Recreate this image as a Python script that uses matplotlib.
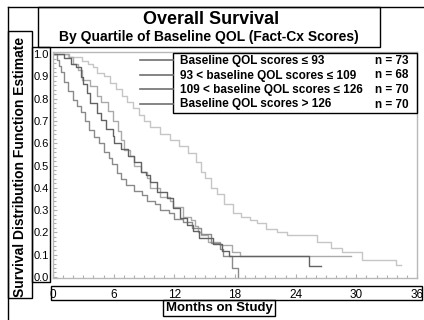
import numpy as np
import matplotlib
matplotlib.use("Agg")
import matplotlib.pyplot as plt
from matplotlib.patches import Rectangle
from matplotlib.lines import Line2D

plt.rcParams['font.family'] = ['Liberation Sans', 'DejaVu Sans']

######## data: drop times (months) and survival after the drop
t_q1 = [0, 0.4, 0.6, 0.8, 1.1, 1.5, 2.0, 2.4, 2.8, 3.2, 3.6, 4.1, 4.5, 5.0, 5.5, 5.8, 6.3, 6.7,
        7.2, 8.0, 8.8, 9.3, 10.1, 10.6, 11.5, 12.0, 12.9, 13.7, 14.6, 15.6, 16.5, 16.8, 17.7, 18.3]
s_q1 = [1.0, 0.973, 0.945, 0.918, 0.877, 0.836, 0.795, 0.767, 0.740, 0.699, 0.658, 0.630, 0.603,
        0.562, 0.534, 0.507, 0.466, 0.438, 0.411, 0.384, 0.370, 0.342, 0.329, 0.301, 0.288, 0.260,
        0.247, 0.219, 0.192, 0.151, 0.123, 0.096, 0.041, 0.0]
end_q1 = 18.3

t_q2 = [0, 1.1, 1.8, 2.3, 2.75, 3.0, 3.4, 3.7, 4.4, 4.7, 5.2, 5.9, 6.0, 6.7, 7.4, 8.0, 8.7, 9.2,
        9.6, 10.3, 11.3, 11.9, 12.6, 13.3, 13.8, 14.4, 15.8, 16.7, 17.4, 25.3]
s_q2 = [1.0, 0.985, 0.956, 0.941, 0.897, 0.868, 0.824, 0.779, 0.735, 0.706, 0.662, 0.632, 0.603,
        0.574, 0.544, 0.515, 0.471, 0.456, 0.426, 0.382, 0.353, 0.309, 0.265, 0.235, 0.206, 0.176,
        0.147, 0.118, 0.094, 0.047]
end_q2 = 26.5

t_q3 = [0, 1.6, 2.0, 2.5, 2.9, 3.7, 4.4, 4.7, 5.4, 5.9, 6.4, 6.7, 7.0, 7.6, 8.0, 8.7, 9.3, 9.6,
        10.6, 11.6, 11.9, 12.9, 13.6, 14.0, 14.3, 14.6, 15.3, 16.5, 17.7, 18.5]
s_q3 = [1.0, 0.986, 0.957, 0.929, 0.886, 0.857, 0.814, 0.786, 0.743, 0.700, 0.657, 0.614, 0.571,
        0.543, 0.500, 0.471, 0.443, 0.400, 0.357, 0.343, 0.314, 0.271, 0.257, 0.229, 0.200, 0.186,
        0.157, 0.143, 0.114, 0.094]
end_q3 = 29.5

t_q4 = [0, 1.5, 2.9, 3.5, 4.0, 4.4, 5.0, 5.6, 6.2, 6.8, 7.3, 7.9, 8.5, 9.0, 9.6, 10.6, 11.6, 12.5,
        13.4, 14.1, 14.6, 15.0, 15.6, 16.2, 16.9, 17.8, 18.6, 19.5, 20.2, 21.1, 22.2, 23.1, 26.1,
        27.5, 28.6, 30.6, 33.9]
s_q4 = [1.0, 0.986, 0.971, 0.957, 0.943, 0.914, 0.900, 0.871, 0.843, 0.814, 0.786, 0.757, 0.729,
        0.700, 0.671, 0.643, 0.614, 0.586, 0.557, 0.514, 0.471, 0.443, 0.400, 0.371, 0.329, 0.286,
        0.271, 0.257, 0.243, 0.214, 0.200, 0.186, 0.157, 0.129, 0.114, 0.076, 0.054]
end_q4 = 34.4

labels = ["Baseline QOL scores \u2264 93",
          "93 < baseline QOL scores \u2264 109",
          "109 < baseline QOL scores \u2264 126",
          "Baseline QOL scores > 126"]
n_counts = [73, 68, 70, 70]
colors = ['#8a8a8a', '#626262', '#aaaaaa', '#c6c6c6']

W, H = 424, 320

def fx(x):
    return x / W

def fy(y):
    return 1 - y / H

def box(fig, x0, y0, x1, y1, lw=1.0):
    fig.add_artist(Rectangle((fx(x0), fy(y1)), (x1 - x0) / W, (y1 - y0) / H,
                             transform=fig.transFigure, fill=False, ec='black', lw=lw))

fig = plt.figure(figsize=(W / 100, H / 100), dpi=100)
ax = fig.add_axes([fx(53), fy(278), (417 - 53) / W, (278 - 52) / H])

curves = [(t_q1, s_q1, end_q1), (t_q2, s_q2, end_q2), (t_q3, s_q3, end_q3), (t_q4, s_q4, end_q4)]
# lightest first so the darker ones sit on top
for i in [3, 2, 0, 1]:
    t, s, end = curves[i]
    ax.step(list(t) + [end], list(s) + [s[-1]], where='post', color=colors[i], lw=1.0)

ax.set_xlim(0, 36)
ax.set_ylim(-0.005, 1.01)
ax.set_xticks(np.arange(0, 37, 6))
ax.set_xticks(np.arange(0, 37, 1), minor=True)
ax.set_yticks(np.arange(0, 1.01, 0.1))
ax.set_yticklabels([f"{v:.1f}" for v in np.arange(0, 1.01, 0.1)])
ax.set_yticks(np.arange(0, 1.01, 0.02), minor=True)
ax.tick_params(axis='both', which='both', direction='in', color='#b0b0b0', width=0.8)
ax.tick_params(axis='both', which='major', length=3)
ax.tick_params(axis='both', which='minor', length=2)
ax.tick_params(axis='x', which='major', labelsize=8.5, pad=8)
ax.tick_params(axis='y', which='major', labelsize=8, pad=3)
for sp in ax.spines.values():
    sp.set_color('#b8b8b8')
    sp.set_linewidth(1.0)

# frame lines and boxes round the text blocks
fig.add_artist(Line2D([fx(8), fx(8)], [fy(7), fy(320)], transform=fig.transFigure, color='black', lw=1))
fig.add_artist(Line2D([fx(8), 1], [fy(7), fy(7)], transform=fig.transFigure, color='black', lw=1))
box(fig, 38, 7, 380, 47)
box(fig, 8, 31, 32, 298)
box(fig, 32, 47, 50, 282)
box(fig, 51, 286, 422, 300)
box(fig, 163, 300, 275, 316)
box(fig, 173, 53, 417, 113)

fig.text(fx(211), fy(20), "Overall Survival", ha='center', va='center', fontsize=13, fontweight='bold')
fig.text(fx(209), fy(37), "By Quartile of Baseline QOL (Fact-Cx Scores)", ha='center', va='center',
         fontsize=10, fontweight='bold')
fig.text(fx(20), fy(167), "Survival Distribution Function Estimate", ha='center', va='center',
         rotation=90, fontsize=10, fontweight='bold')
fig.text(fx(219), fy(308), "Months on Study", ha='center', va='center', fontsize=9.5, fontweight='bold')

# legend, sample lines sit outside the box
for i, (lab, n) in enumerate(zip(labels, n_counts)):
    yy = 61 + 14.5 * i
    fig.add_artist(Line2D([fx(140), fx(173)], [fy(yy - 1), fy(yy - 1)], transform=fig.transFigure,
                          color='#707070', lw=1.2))
    fig.text(fx(180), fy(yy), lab, ha='left', va='center', fontsize=8.5, fontweight='bold')
    fig.text(fx(375), fy(yy), f"n = {n}", ha='left', va='center', fontsize=8.5, fontweight='bold')

fig.savefig("out.png", dpi=100)
